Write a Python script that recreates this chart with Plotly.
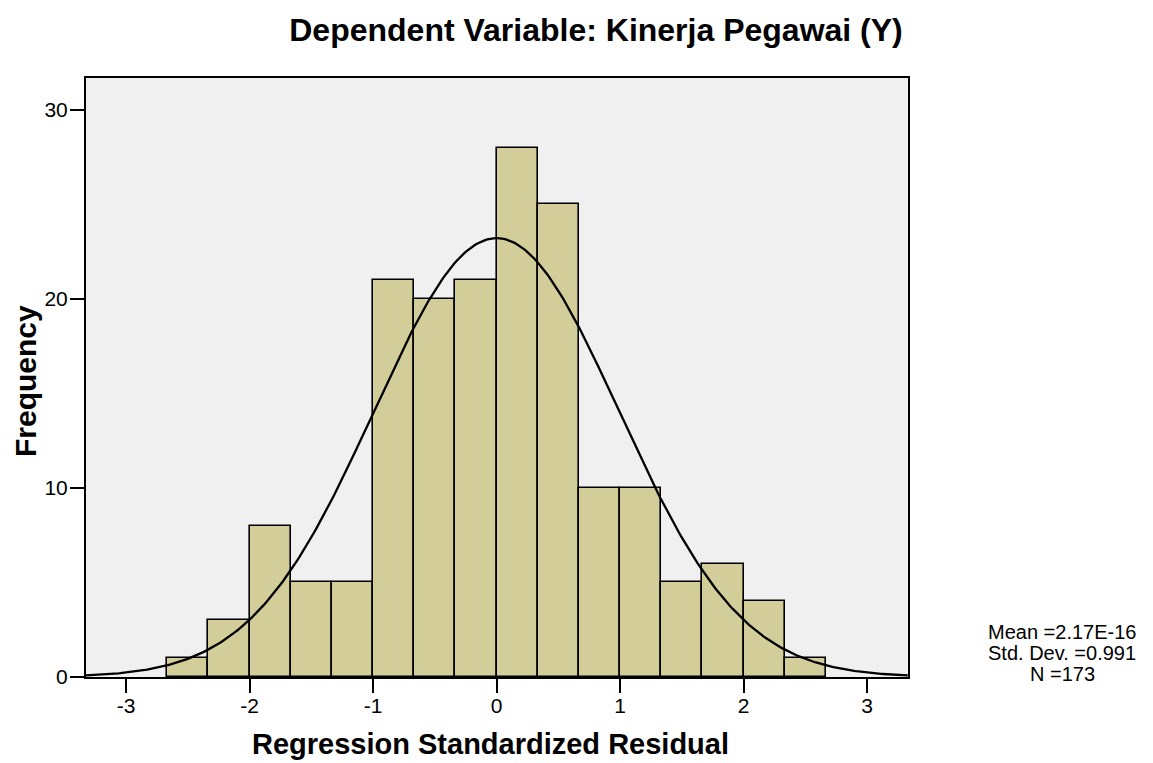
import numpy as np
import plotly.graph_objects as go

# Histogram data
bin_edges = [-8/3, -7/3, -2, -5/3, -4/3, -1, -2/3, -1/3, 0, 1/3, 2/3, 1, 4/3, 5/3, 2, 7/3, 8/3]
counts = [1, 3, 8, 5, 5, 21, 20, 21, 28, 25, 10, 10, 5, 6, 4, 1]
mean_val = 2.17e-16
sd_val = 0.991
n_val = 173
bin_width = 1/3
stat_lines = ["Mean =2.17E-16", "Std. Dev. =0.991", "N =173"]
x_ticks = [-3, -2, -1, 0, 1, 2, 3]
y_ticks = [0, 10, 20, 30]

centers = [(bin_edges[i] + bin_edges[i+1]) / 2 for i in range(len(counts))]

# Normal curve fitted with shown mean/sd/N
xs = np.linspace(-3.33, 3.33, 400)
ys = n_val * bin_width / (sd_val * np.sqrt(2*np.pi)) * np.exp(-0.5*((xs-mean_val)/sd_val)**2)

fig = go.Figure()
fig.add_trace(go.Bar(
    x=centers, y=counts, width=bin_width,
    marker=dict(color="rgb(211,206,153)", line=dict(color="black", width=1.6)),
    showlegend=False, hoverinfo="x+y"))
fig.add_trace(go.Scatter(x=xs, y=ys, mode="lines",
    line=dict(color="black", width=2.3), showlegend=False))

W, H = 1153, 763
L, R, T, B = 86, 245, 78, 86
pw, ph = W - L - R, H - T - B

def px_x(p):
    return (p - L) / pw

def px_y(p):
    return (H - B - p) / ph

annotations = []
for txt, ypx in zip(stat_lines, [632, 653, 674]):
    annotations.append(dict(text=txt, xref="paper", yref="paper",
        x=px_x(1062), y=px_y(ypx), xanchor="center", yanchor="middle",
        showarrow=False, font=dict(size=20)))
annotations.append(dict(text="<b>Regression Standardized Residual</b>",
    xref="paper", yref="paper", x=px_x(490), y=px_y(744),
    xanchor="center", yanchor="middle", showarrow=False, font=dict(size=29)))
annotations.append(dict(text="<b>Frequency</b>", textangle=-90,
    xref="paper", yref="paper", x=px_x(25), y=px_y(381),
    xanchor="center", yanchor="middle", showarrow=False, font=dict(size=30)))

fig.update_layout(
    width=W, height=H,
    margin=dict(l=L, r=R, t=T, b=B, autoexpand=False),
    paper_bgcolor="white", plot_bgcolor="#F0F0F0",
    font=dict(family="Liberation Sans, Arial, sans-serif", color="black", size=21),
    title=dict(text="<b>Dependent Variable: Kinerja Pegawai (Y)</b>",
               x=596/W, xanchor="center", y=1-30/H, yanchor="middle",
               font=dict(size=32)),
    bargap=0,
    xaxis=dict(range=[-3.324, 3.332], tickvals=x_ticks,
               ticktext=[str(v) for v in x_ticks],
               ticks="outside", ticklen=14, tickwidth=2, tickcolor="black",
               ticklabelstandoff=-5,
               showgrid=False, zeroline=False, showline=True, linecolor="black",
               linewidth=2, mirror=True, automargin=False),
    yaxis=dict(range=[0, 31.69], tickvals=y_ticks,
               ticks="outside", ticklen=14, tickwidth=2, tickcolor="black",
               ticklabelstandoff=-2,
               showgrid=False, zeroline=False, showline=True, linecolor="black",
               linewidth=2, mirror=True, automargin=False),
    annotations=annotations
)

fig.write_html("out.html")
